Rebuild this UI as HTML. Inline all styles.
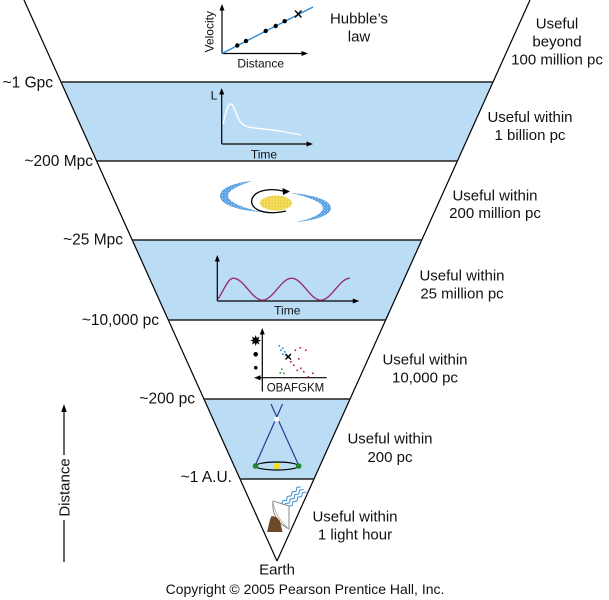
<!DOCTYPE html>
<html>
<head>
<meta charset="utf-8">
<style>
  html, body { margin: 0; padding: 0; background: #ffffff; }
  body { width: 609px; height: 600px; overflow: hidden; }
  svg { display: block; }
  text { font-family: "Liberation Sans", Arial, sans-serif; fill: #111; }
</style>
</head>
<body>
<svg width="609" height="600" viewBox="0 0 609 600" xmlns="http://www.w3.org/2000/svg">
  <defs>
    <pattern id="speckB" width="3" height="3" patternUnits="userSpaceOnUse">
      <rect width="3" height="3" fill="#4c9be0"/>
      <circle cx="0.7" cy="0.8" r="0.55" fill="#ffffff"/>
      <circle cx="2.2" cy="2.1" r="0.45" fill="#cfe6fa"/>
    </pattern>
    <pattern id="speckY" width="3" height="3" patternUnits="userSpaceOnUse">
      <rect width="3" height="3" fill="#f0d64a"/>
      <circle cx="0.8" cy="0.9" r="0.55" fill="#fff6c0"/>
      <circle cx="2.2" cy="2.2" r="0.45" fill="#e0c030"/>
    </pattern>
  </defs>

  <rect x="0" y="0" width="609" height="600" fill="#ffffff"/>

  <!-- Blue bands -->
  <polygon points="61,82 493,82 457.4,161 96.6,161" fill="#badcf5"/>
  <polygon points="132.2,240 421.8,240 385.7,320 168.3,320" fill="#badcf5"/>
  <polygon points="203.9,399 350.1,399 314,479 240,479" fill="#badcf5"/>

  <!-- Triangle edges -->
  <line x1="24" y1="0" x2="277" y2="561" stroke="#000" stroke-width="1.2"/>
  <line x1="530" y1="0" x2="277" y2="561" stroke="#000" stroke-width="1.2"/>

  <!-- Band lines -->
  <g stroke="#222" stroke-width="1.5">
    <line x1="61" y1="82" x2="493" y2="82"/>
    <line x1="96.6" y1="161" x2="457.4" y2="161"/>
    <line x1="132.2" y1="240" x2="421.8" y2="240"/>
    <line x1="168.3" y1="320" x2="385.7" y2="320"/>
    <line x1="203.9" y1="399" x2="350.1" y2="399"/>
    <line x1="240" y1="479" x2="314" y2="479"/>
  </g>

  <!-- Left labels -->
  <g font-size="15.5" text-anchor="end">
    <text x="53" y="87.5">~1 Gpc</text>
    <text x="93" y="166">~200 Mpc</text>
    <text x="123" y="244.5">~25 Mpc</text>
    <text x="159" y="325">~10,000 pc</text>
    <text x="195" y="403.5">~200 pc</text>
    <text x="232" y="482">~1 A.U.</text>
  </g>

  <!-- Right labels -->
  <g font-size="15" text-anchor="middle">
    <text x="557" y="28.5">Useful</text>
    <text x="557" y="46.5">beyond</text>
    <text x="557" y="64.5">100 million pc</text>

    <text x="530" y="122">Useful within</text>
    <text x="530" y="140">1 billion pc</text>

    <text x="495" y="200.5">Useful within</text>
    <text x="495" y="218">200 million pc</text>

    <text x="462" y="280.5">Useful within</text>
    <text x="462" y="298.5">25 million pc</text>

    <text x="425" y="364.5">Useful within</text>
    <text x="425" y="382.5">10,000 pc</text>

    <text x="390" y="443.5">Useful within</text>
    <text x="390" y="462">200 pc</text>

    <text x="355" y="521.5">Useful within</text>
    <text x="355" y="539.5">1 light hour</text>

    <text x="359" y="23.5">Hubble’s</text>
    <text x="359" y="41.5">law</text>

    <text x="277" y="574.5">Earth</text>
  </g>
  <text x="305" y="594" font-size="14" text-anchor="middle">Copyright © 2005 Pearson Prentice Hall, Inc.</text>

  <!-- Hubble graph -->
  <g stroke="#000" stroke-width="1.2" fill="none">
    <line x1="222" y1="53.5" x2="222" y2="9"/>
    <line x1="222" y1="53.5" x2="303" y2="53.5"/>
  </g>
  <polygon points="222,4 219.5,10.5 224.5,10.5" fill="#000"/>
  <polygon points="308,53.5 301.5,51 301.5,56" fill="#000"/>
  <line x1="222" y1="53.5" x2="313" y2="7" stroke="#2a8ad4" stroke-width="1.3"/>
  <g fill="#000">
    <circle cx="237.3" cy="45.5" r="2.2"/>
    <circle cx="246" cy="41" r="2.2"/>
    <circle cx="265.7" cy="31" r="2.2"/>
    <circle cx="275.7" cy="26" r="2.2"/>
    <circle cx="284.7" cy="21.2" r="2.2"/>
  </g>
  <g stroke="#000" stroke-width="1.3">
    <line x1="295" y1="10.5" x2="301.5" y2="17.5"/>
    <line x1="301.5" y1="10.5" x2="295" y2="17.5"/>
  </g>
  <text font-size="12" text-anchor="middle" transform="translate(213.6,31.7) rotate(-90)">Velocity</text>
  <text x="260.7" y="67.6" font-size="12" text-anchor="middle">Distance</text>

  <!-- L vs Time graph -->
  <g stroke="#000" stroke-width="1.2" fill="none">
    <line x1="221.7" y1="144" x2="221.7" y2="93"/>
    <line x1="221.7" y1="144" x2="307" y2="144"/>
  </g>
  <polygon points="221.7,88 219.2,94.5 224.2,94.5" fill="#000"/>
  <polygon points="313,144 306.5,141.5 306.5,146.5" fill="#000"/>
  <path d="M223,124 C226,112 228,103 231,104 C235,105 237,122 244,125 C250,129 262,128 280,131 C290,133 296,134 301,135" stroke="#ffffff" stroke-width="1.4" fill="none"/>
  <text x="214" y="99.5" font-size="12" text-anchor="middle">L</text>
  <text x="264" y="158.5" font-size="12" text-anchor="middle">Time</text>

  <!-- Galaxy -->
  <path d="M252,181 C238,182 220,187 220,196 C220,205 240,211 263,212 C246,209 229,203 228,196 C228,190 240,185 252,181 Z" fill="url(#speckB)"/>
  <path d="M290,193 C308,194 331,199 331,208 C331,216 312,221 296,222 C311,219 323,214 323,208 C323,202 306,196 290,193 Z" fill="url(#speckB)"/>
  <ellipse cx="276" cy="203" rx="16" ry="7.5" fill="url(#speckY)"/>
  <path d="M286,211 C264,216 249,209 252,199 C255,190 270,188 283,191" stroke="#000" stroke-width="1.3" fill="none"/>
  <polygon points="290,191.5 282.5,188 283,195" fill="#000"/>

  <!-- Sine graph -->
  <g stroke="#000" stroke-width="1.2" fill="none">
    <line x1="217.3" y1="301" x2="217.3" y2="260"/>
    <line x1="217.3" y1="301" x2="353" y2="301"/>
  </g>
  <polygon points="217.3,255 214.8,261.5 219.8,261.5" fill="#000"/>
  <polygon points="359.3,301 352.8,298.5 352.8,303.5" fill="#000"/>
  <path d="M218,299 C224,290 228,278.2 233.3,278.2 C243.8,278.2 252,300.2 262.5,300.2 C273,300.2 281.2,278.2 291.65,278.2 C302.1,278.2 310.3,300.2 320.8,300.2 C331.3,300.2 339.5,278.2 349.95,278.2" stroke="#9b2a7d" stroke-width="1.4" fill="none"/>
  <text x="287.3" y="314.5" font-size="12" text-anchor="middle">Time</text>

  <!-- HR diagram -->
  <g stroke="#000" stroke-width="1.2" fill="none">
    <line x1="262.3" y1="391.5" x2="262.3" y2="333"/>
    <line x1="326.7" y1="377.7" x2="259" y2="377.7"/>
  </g>
  <polygon points="262.3,328 259.8,334.5 264.8,334.5" fill="#000"/>
  <polygon points="254,377.7 260.5,375.2 260.5,380.2" fill="#000"/>
  <polygon points="255.7,335 256.8,338 259.5,336.5 258.3,339.4 261,340.5 258.3,341.6 259.5,344.5 256.8,343 255.7,346 254.6,343 251.9,344.5 253.1,341.6 250.4,340.5 253.1,339.4 251.9,336.5 254.6,338" fill="#000"/>
  <circle cx="255.7" cy="354.3" r="2.3" fill="#000"/>
  <circle cx="255.7" cy="367.7" r="1.8" fill="#000"/>
  <g fill="#2f86d6">
    <rect x="278.5" y="345" width="1.6" height="1.6"/>
    <rect x="282" y="347.5" width="1.6" height="1.6"/>
    <rect x="280" y="349.5" width="1.6" height="1.6"/>
    <rect x="284" y="351" width="1.6" height="1.6"/>
    <rect x="282" y="353.5" width="1.6" height="1.6"/>
    <rect x="285.5" y="355" width="1.6" height="1.6"/>
  </g>
  <g fill="#c0184a">
    <rect x="294.5" y="349.5" width="1.6" height="1.6"/>
    <rect x="299.5" y="347" width="1.6" height="1.6"/>
    <rect x="305" y="349.5" width="1.6" height="1.6"/>
    <rect x="290" y="361" width="1.6" height="1.6"/>
    <rect x="293" y="364.5" width="1.6" height="1.6"/>
    <rect x="296.5" y="369.5" width="1.6" height="1.6"/>
    <rect x="300" y="367.5" width="1.6" height="1.6"/>
    <rect x="303" y="371" width="1.6" height="1.6"/>
    <rect x="307.5" y="376" width="1.6" height="1.6"/>
    <rect x="312" y="372.5" width="1.6" height="1.6"/>
    <rect x="298" y="358" width="1.6" height="1.6"/>
  </g>
  <g fill="#1f9a3a">
    <rect x="281" y="368.5" width="1.6" height="1.6"/>
    <rect x="279.5" y="372" width="1.6" height="1.6"/>
    <rect x="283" y="372.5" width="1.6" height="1.6"/>
  </g>
  <g stroke="#000" stroke-width="1.4">
    <line x1="285.5" y1="354" x2="291" y2="359.5"/>
    <line x1="291" y1="354" x2="285.5" y2="359.5"/>
  </g>
  <text x="295.5" y="391.5" font-size="11.5" text-anchor="middle">OBAFGKM</text>

  <!-- Parallax -->
  <g stroke="#2d3a8c" stroke-width="1.2">
    <line x1="271" y1="404" x2="299" y2="466"/>
    <line x1="282.5" y1="404" x2="255" y2="466"/>
  </g>
  <rect x="274.5" y="417" width="4.5" height="4.5" fill="#ffffff"/>
  <ellipse cx="277" cy="466" rx="21.5" ry="4" stroke="#000" stroke-width="1.2" fill="none"/>
  <circle cx="277" cy="466" r="3.2" fill="#f5e31a"/>
  <circle cx="255.5" cy="466" r="2.8" fill="#1e8a2e"/>
  <circle cx="298.7" cy="466" r="2.8" fill="#1e8a2e"/>

  <!-- Radio telescope -->
  <g fill="none" stroke="#3a8fd8" stroke-width="1" stroke-linejoin="round">
    <polyline points="281.8,504.9 282.6,500.9 286.6,500.4 287.3,496.4 291.3,495.9 292.1,491.9 296.1,491.4 296.8,487.4 300.8,486.9"/>
    <polyline transform="translate(2.8,2.6)" points="281.8,504.9 282.6,500.9 286.6,500.4 287.3,496.4 291.3,495.9 292.1,491.9 296.1,491.4 296.8,487.4 300.8,486.9"/>
    <polyline transform="translate(5.6,5.2)" points="281.8,504.9 282.6,500.9 286.6,500.4 287.3,496.4 291.3,495.9 292.1,491.9 296.1,491.4 296.8,487.4 300.8,486.9"/>
  </g>
  <path d="M273,501 Q271,520 289,529 L289,506 Z" fill="#ffffff" stroke="#888" stroke-width="1"/>
  <path d="M273,501 Q275,517 289,529" fill="none" stroke="#aaa" stroke-width="0.8"/>
  <polygon points="267,532 282.5,532 280,521 276.5,517 271.5,516 270,519.5" fill="#6e4a2a"/>

  <!-- Distance arrow -->
  <line x1="64" y1="410" x2="64" y2="455" stroke="#000" stroke-width="1.2"/>
  <line x1="64" y1="520" x2="64" y2="562" stroke="#000" stroke-width="1.2"/>
  <polygon points="64,404 61.3,412 66.7,412" fill="#000"/>
  <text font-size="15" text-anchor="middle" transform="translate(69.4,487.5) rotate(-90)">Distance</text>
</svg>
</body>
</html>
